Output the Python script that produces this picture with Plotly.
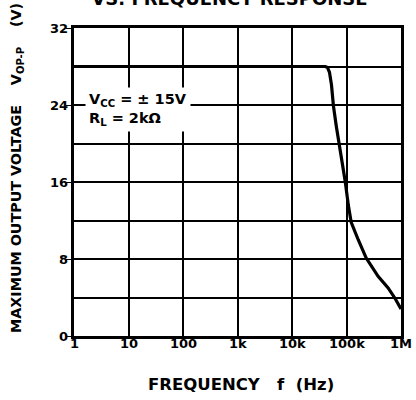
import math
import plotly.graph_objects as go

# Data
freq_hz = [1, 10, 100, 1e3, 1e4, 3e4, 41e3, 44.7e3, 48.7e3, 53e3, 57.6e3, 65e3, 77e3,
           95e3, 108e3, 122e3, 164e3, 230e3, 380e3, 580e3, 780e3, 960e3, 1e6]
vout_pp = [28, 28, 28, 28, 28, 28, 28, 27.9, 27.4, 26.1, 23.9, 21.8, 19.3,
           16, 13.6, 11.8, 10, 8.1, 6.2, 5.0, 3.9, 3.0, 2.8]

x_tick_vals = [1, 10, 100, 1e3, 1e4, 1e5, 1e6]
x_tick_text = ["1", "10", "100", "1k", "10k", "100k", "1M"]
y_tick_vals = [0, 8, 16, 24, 32]
y_tick_text = ["0", "8", "16", "24", "32"]

FONT = "DejaVu Sans, Arial, sans-serif"

fig = go.Figure()
fig.add_trace(go.Scatter(
    x=freq_hz, y=vout_pp, mode="lines",
    line=dict(color="black", width=3.2),
    showlegend=False, hoverinfo="skip",
))

fig.update_layout(
    width=416, height=400,
    margin=dict(l=74, r=13, t=28, b=64),
    paper_bgcolor="white", plot_bgcolor="white",
    font=dict(family=FONT, size=12, color="black"),
    xaxis=dict(
        type="log", range=[0, 6],
        tickvals=x_tick_vals, ticktext=x_tick_text, showticklabels=False,
        showgrid=True, gridcolor="black", gridwidth=1.5,
        showline=True, linecolor="black", linewidth=3, mirror=True,
        ticks="", zeroline=False,
    ),
    yaxis=dict(
        range=[0, 32],
        tickvals=y_tick_vals, ticktext=y_tick_text, showticklabels=False,
        showgrid=True, gridcolor="black", gridwidth=1.5,
        showline=True, linecolor="black", linewidth=3, mirror=True,
        ticks="outside", ticklen=5, tickwidth=1.2, tickcolor="black",
        zeroline=False,
        minor=dict(dtick=4, showgrid=True, gridcolor="black", gridwidth=1.5, ticks=""),
    ),
)

annotations = [
    dict(text="MAXIMUM OUTPUT VOLTAGE<br>VS. FREQUENCY RESPONSE", xref="paper", yref="paper",
         x=0.476, y=1.055, xanchor="center", yanchor="bottom", showarrow=False,
         font=dict(family=FONT, size=18, color="black", weight="bold")),
    dict(text="MAXIMUM OUTPUT VOLTAGE    V<sub>OP-P</sub>    (V)", xref="paper", yref="paper",
         x=-0.176, y=0.547, xanchor="center", yanchor="middle", textangle=-90, showarrow=False,
         font=dict(family=FONT, size=14.3, color="black", weight="bold")),
    dict(text="FREQUENCY   f  (Hz)", xref="paper", yref="paper",
         x=0.512, y=-0.158, xanchor="center", yanchor="middle", showarrow=False,
         font=dict(family=FONT, size=16.5, color="black", weight="bold")),
    dict(text="V<sub>CC</sub> = ± 15V<br>R<sub>L</sub> = 2kΩ", xref="paper", yref="paper",
         x=0.033, y=0.735, xanchor="left", yanchor="middle", showarrow=False, align="left",
         bgcolor="white", borderpad=3,
         font=dict(family=FONT, size=14.5, color="black", weight="bold")),
]
for v, t in zip(x_tick_vals, x_tick_text):
    annotations.append(dict(
        text=t, xref="x", yref="paper", x=math.log10(v), y=-0.024,
        xanchor="center", yanchor="middle", showarrow=False,
        font=dict(family=FONT, size=13, color="black", weight="bold")))
for v, t in zip(y_tick_vals, y_tick_text):
    annotations.append(dict(
        text=t, xref="paper", yref="y", x=-0.013, y=v,
        xanchor="right", yanchor="middle", showarrow=False,
        font=dict(family=FONT, size=13, color="black", weight="bold")))
fig.update_layout(annotations=annotations)

fig.write_html("out.html", config={"displayModeBar": False},
               post_script="document.body.style.margin='0';")
